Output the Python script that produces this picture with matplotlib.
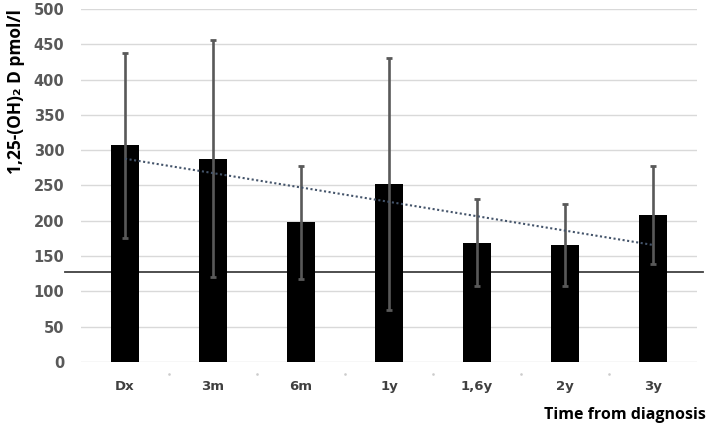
import numpy as np
import matplotlib
matplotlib.use("Agg")
import matplotlib.pyplot as plt
import matplotlib.transforms as mtransforms

# data
categories = ["Dx", "3m", "6m", "1y", "1,6y", "2y", "3y"]
means = [307, 288, 198, 252, 169, 166, 208]
sd = [131, 168, 80, 178, 62, 58, 69]
ref_level = 127

fig = plt.figure(figsize=(7.08, 4.28), dpi=100)
ax = fig.add_axes([0.1144, 0.1542, 0.8701, 0.8248])

x = np.arange(len(categories))

ax.bar(x, means, width=0.32, color="black", zorder=3)
ax.errorbar(x, means, yerr=sd, fmt="none", ecolor="#595959",
            elinewidth=1.9, capsize=2.2, capthick=2, zorder=4)

# linear trend through the means
k, b = np.polyfit(x, means, 1)
ax.plot(x, k * x + b, linestyle=(0, (1, 1.2)), color="#44546a",
        linewidth=1.5, zorder=5)

# reference line, runs a bit past the plot area
ax.axhline(ref_level, xmin=-0.026, xmax=1.01, color="#404040",
           linewidth=1.3, clip_on=False, zorder=2)

ax.set_xlim(-0.5, 6.5)
ax.set_ylim(0, 500)
ax.set_yticks(np.arange(0, 501, 50))
ax.set_xticks(x)
ax.set_xticklabels(categories)
ax.yaxis.grid(True, color="#d9d9d9", linewidth=1)
ax.set_axisbelow(True)
for s in ax.spines.values():
    s.set_visible(False)
ax.tick_params(axis="both", length=0)
ax.tick_params(axis="y", pad=12, labelsize=10.5, labelcolor="#595959")
ax.tick_params(axis="x", pad=13, labelsize=9.5, labelcolor="#404040")
for lab in ax.get_yticklabels() + ax.get_xticklabels():
    lab.set_fontweight("bold")

# small marks between categories
trans = mtransforms.blended_transform_factory(ax.transData, ax.transAxes)
ax.plot(x[:-1] + 0.5, [-0.034] * (len(x) - 1), linestyle="none", marker="s",
        markersize=0.8, color="#cccccc", transform=trans, clip_on=False)

fig.text(0.022, 0.785, "1,25-(OH)₂ D pmol/l", rotation=90, ha="center",
         va="center", fontsize=12.5, fontweight="bold",
         family=["Open Sans", "DejaVu Sans"])
fig.text(0.997, 0.03, "Time from diagnosis", ha="right", va="center",
         fontsize=11.5, fontweight="bold", family=["Open Sans", "DejaVu Sans"])

fig.savefig("out.png", dpi=100)
